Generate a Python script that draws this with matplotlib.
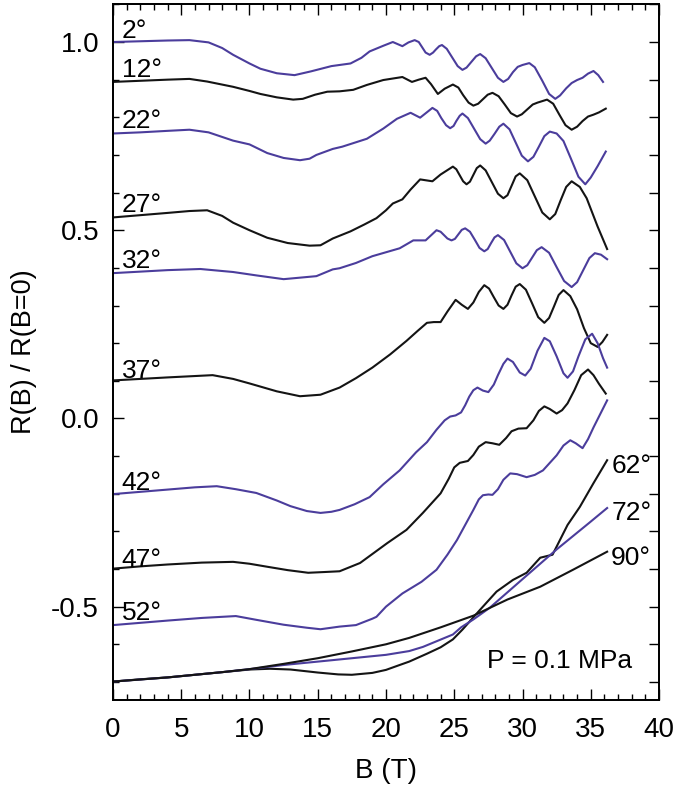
import matplotlib
matplotlib.use("Agg")
import matplotlib.pyplot as plt
from matplotlib.ticker import MultipleLocator, FormatStrFormatter

plt.rcParams['font.family'] = ['Liberation Sans', 'DejaVu Sans']
plt.rcParams['axes.unicode_minus'] = False

BLUE = '#4b3d9c'
BLACK = '#141414'

# magnetoresistance traces, B in tesla
b_2 = [0, 2, 4, 5.6, 7, 8, 8.8, 10, 10.8, 12, 13.3, 14.5, 16, 17.4, 18.2, 18.8, 19.8, 20.5,
       21.2, 21.65, 22.1, 22.4, 22.65, 22.9, 23.2, 23.45, 23.65, 23.9, 24.1, 24.45, 24.85,
       25.25, 25.6, 25.9, 26.25, 26.6, 26.9, 27.3, 27.75, 28.2, 28.6, 28.95, 29.3, 29.65,
       30.0, 30.5, 30.9, 31.45, 31.95, 32.4, 32.75, 33.2, 33.6, 34.0, 34.4, 34.8, 35.2,
       35.55, 35.9]
r_2 = [1.0, 1.002, 1.004, 1.005, 0.999, 0.984, 0.966, 0.943, 0.929, 0.917, 0.912, 0.922,
       0.936, 0.943, 0.958, 0.975, 0.990, 1.0, 0.989, 0.999, 1.005, 1.0, 0.986, 0.972,
       0.966, 0.972, 0.980, 0.989, 0.992, 0.982, 0.959, 0.936, 0.926, 0.932, 0.947, 0.962,
       0.968, 0.957, 0.931, 0.905, 0.894, 0.902, 0.920, 0.934, 0.939, 0.944, 0.933, 0.897,
       0.862, 0.849, 0.858, 0.877, 0.891, 0.899, 0.905, 0.916, 0.923, 0.912, 0.894]

b_12 = [0, 2, 4, 5.6, 6.9, 8.8, 10, 10.8, 12, 13.2, 13.9, 14.8, 15.7, 16.6, 17.6, 18.6,
        19.8, 20.5, 21.2, 21.9, 22.4, 22.9, 23.3, 23.8, 24.3, 24.9, 25.3, 25.65, 26.05,
        26.4, 26.75, 27.1, 27.45, 27.8, 28.25, 28.7, 29.15, 29.6, 29.95, 30.35, 30.75,
        31.1, 31.8, 32.25, 32.7, 33.15, 33.6, 34.0, 34.4, 34.8, 35.2, 35.6, 36.1]
r_12 = [0.894, 0.897, 0.900, 0.902, 0.895, 0.881, 0.870, 0.862, 0.853, 0.847, 0.849,
        0.860, 0.868, 0.869, 0.873, 0.886, 0.899, 0.903, 0.907, 0.894, 0.900, 0.905,
        0.888, 0.862, 0.876, 0.887, 0.879, 0.859, 0.839, 0.831, 0.836, 0.848, 0.860,
        0.865, 0.856, 0.834, 0.811, 0.802, 0.808, 0.821, 0.834, 0.839, 0.847, 0.836,
        0.807, 0.779, 0.767, 0.775, 0.790, 0.802, 0.807, 0.813, 0.823]

b_22 = [0, 2, 4, 5.6, 7, 8.8, 10, 11.3, 12.5, 13.7, 14.4, 14.9, 16.1, 16.8, 18.6, 19.8,
        20.8, 21.8, 22.5, 23.4, 23.75, 24.05, 24.4, 24.7, 24.95, 25.15, 25.4, 25.6, 26.0,
        26.45, 26.9, 27.3, 27.6, 27.95, 28.3, 28.6, 29.05, 29.5, 29.95, 30.4, 30.8, 31.2,
        31.6, 32.0, 32.5, 33.0, 33.55, 34.1, 34.6, 35.0, 35.5, 36.1]
r_22 = [0.757, 0.760, 0.764, 0.767, 0.760, 0.738, 0.728, 0.705, 0.692, 0.686, 0.690,
        0.700, 0.716, 0.722, 0.743, 0.770, 0.796, 0.812, 0.799, 0.825, 0.817, 0.798,
        0.779, 0.771, 0.777, 0.790, 0.804, 0.810, 0.798, 0.770, 0.742, 0.730, 0.738,
        0.756, 0.775, 0.783, 0.768, 0.733, 0.698, 0.683, 0.695, 0.722, 0.750, 0.762,
        0.757, 0.737, 0.690, 0.642, 0.622, 0.640, 0.670, 0.709]

b_27 = [0, 2, 4, 5.6, 6.9, 8, 8.8, 10, 11.3, 12.8, 14.4, 15.2, 16.1, 17.4, 18.4, 19.3,
        20.0, 20.5, 21.2, 21.8, 22.5, 23.4, 24.0, 24.9, 25.15, 25.4, 25.65, 25.9, 26.15,
        26.4, 26.65, 26.9, 27.3, 27.75, 28.2, 28.6, 28.9, 29.2, 29.5, 29.8, 30.35, 30.9,
        31.45, 32.0, 32.4, 32.8, 33.2, 33.6, 34.2, 34.7, 35.5, 36.2]
r_27 = [0.534, 0.540, 0.546, 0.551, 0.553, 0.538, 0.520, 0.500, 0.480, 0.466, 0.459,
        0.460, 0.478, 0.497, 0.515, 0.532, 0.553, 0.571, 0.582, 0.608, 0.635, 0.630,
        0.648, 0.669, 0.662, 0.646, 0.630, 0.622, 0.629, 0.647, 0.665, 0.672, 0.659,
        0.628, 0.597, 0.585, 0.593, 0.618, 0.643, 0.651, 0.633, 0.590, 0.547, 0.529,
        0.543, 0.580, 0.615, 0.630, 0.615, 0.585, 0.510, 0.450]

b_32 = [0, 2, 4, 6.4, 8.8, 10.5, 12.5, 14.9, 16.1, 16.6, 17.8, 19.0, 21.0, 22.0, 22.9,
        23.7, 24.0, 24.25, 24.5, 24.8, 25.05, 25.3, 25.55, 25.8, 26.15, 26.5, 26.85, 27.2,
        27.45, 27.7, 27.95, 28.2, 28.65, 29.1, 29.55, 30.0, 30.35, 30.7, 31.05, 31.4,
        31.95, 32.5, 33.05, 33.6, 34.0, 34.45, 34.9, 35.3, 35.75, 36.2]
r_32 = [0.386, 0.390, 0.394, 0.397, 0.389, 0.380, 0.370, 0.378, 0.396, 0.399, 0.413,
        0.431, 0.452, 0.473, 0.473, 0.500, 0.496, 0.487, 0.478, 0.473, 0.477, 0.489,
        0.501, 0.505, 0.496, 0.475, 0.453, 0.444, 0.450, 0.466, 0.481, 0.487, 0.474,
        0.443, 0.412, 0.399, 0.407, 0.427, 0.447, 0.455, 0.440, 0.402, 0.365, 0.349,
        0.362, 0.394, 0.426, 0.439, 0.435, 0.423]

b_37 = [0, 2, 4, 7.3, 8.8, 10.0, 12.0, 13.7, 15.2, 16.6, 17.8, 19.0, 20.3, 21.5, 22.3,
        23.0, 23.5, 24.0, 24.5, 25.1, 25.55, 26.0, 26.4, 26.8, 27.2, 27.55, 27.9, 28.25,
        28.6, 28.9, 29.2, 29.5, 29.8, 30.25, 30.7, 31.15, 31.6, 31.95, 32.3, 32.65, 33.0,
        33.5, 34.0, 34.5, 35.0, 35.5, 35.85, 36.2]
r_37 = [0.101, 0.105, 0.109, 0.115, 0.105, 0.093, 0.072, 0.059, 0.063, 0.082, 0.107,
        0.135, 0.170, 0.206, 0.232, 0.254, 0.256, 0.256, 0.284, 0.315, 0.302, 0.291,
        0.308, 0.336, 0.354, 0.345, 0.322, 0.300, 0.291, 0.302, 0.327, 0.350, 0.357,
        0.342, 0.306, 0.269, 0.254, 0.267, 0.297, 0.328, 0.341, 0.325, 0.290, 0.240,
        0.200, 0.190, 0.203, 0.222]

b_42 = [0, 2, 4, 6, 7.6, 9, 10.5, 12, 13.0, 14.2, 15.2, 16.0, 16.6, 17.7, 18.8, 19.8,
        21.0, 21.5, 22.2, 23.0, 23.7, 24.3, 24.7, 25.1, 25.5, 25.8, 26.1, 26.4, 26.7,
        27.1, 27.5, 27.9, 28.2, 28.6, 28.9, 29.3, 29.8, 30.2, 30.6, 31.1, 31.6, 32.0,
        32.5, 33.0, 33.3, 33.7, 34.1, 34.6, 35.1, 35.5, 35.9, 36.2]
r_42 = [-0.201, -0.195, -0.189, -0.183, -0.180, -0.188, -0.198, -0.218, -0.233, -0.246,
        -0.251, -0.248, -0.243, -0.228, -0.209, -0.175, -0.138, -0.118, -0.090, -0.063,
        -0.030, -0.005, 0.005, 0.008, 0.016, 0.035, 0.058, 0.075, 0.082, 0.074, 0.070,
        0.090, 0.115, 0.145, 0.159, 0.150, 0.122, 0.114, 0.132, 0.180, 0.214, 0.205,
        0.165, 0.120, 0.108, 0.125, 0.165, 0.210, 0.225, 0.200, 0.160, 0.135]

b_47 = [0, 2, 4, 6.5, 8.8, 10, 11.3, 12.8, 14.3, 15.5, 16.6, 18.1, 20.1, 21.5, 22.7,
        24.0, 24.6, 25.0, 25.4, 26.0, 26.4, 26.8, 27.3, 27.8, 28.3, 28.8, 29.2, 29.7,
        30.3, 30.8, 31.2, 31.6, 32.0, 32.5, 32.9, 33.3, 33.8, 34.3, 34.8, 35.2, 35.6, 36.1]
r_47 = [-0.399, -0.393, -0.388, -0.383, -0.381, -0.386, -0.394, -0.403, -0.410, -0.408,
        -0.406, -0.384, -0.331, -0.296, -0.251, -0.199, -0.160, -0.130, -0.118, -0.113,
        -0.097, -0.075, -0.063, -0.066, -0.070, -0.052, -0.034, -0.027, -0.026, -0.005,
        0.020, 0.032, 0.025, 0.013, 0.022, 0.040, 0.075, 0.115, 0.130, 0.115, 0.092,
        0.066]

b_52 = [0, 2, 4, 6.5, 9.0, 10.5, 12.5, 14.2, 15.2, 16.6, 17.8, 19.0, 19.3, 20.0, 21.2,
        22.6, 23.7, 24.5, 25.2, 25.8, 26.4, 26.8, 27.1, 27.5, 27.8, 28.2, 28.6, 29.1,
        29.6, 30.3, 30.9, 31.5, 32.0, 32.5, 33.0, 33.5, 33.9, 34.4, 34.8, 35.2, 35.7, 36.2]
r_52 = [-0.549, -0.543, -0.537, -0.530, -0.525, -0.535, -0.548, -0.556, -0.560, -0.553,
        -0.549, -0.532, -0.527, -0.500, -0.465, -0.434, -0.402, -0.362, -0.323, -0.283,
        -0.243, -0.215, -0.204, -0.202, -0.203, -0.188, -0.163, -0.146, -0.148, -0.156,
        -0.150, -0.138, -0.118, -0.098, -0.072, -0.058, -0.066, -0.079, -0.055, -0.024,
        0.012, 0.048]

b_62 = [0, 2, 4, 6, 8, 10, 11.5, 13, 15, 16.5, 17.5, 19, 20, 21, 21.7, 23, 24.0, 24.9,
        25.6, 26.9, 28.1, 29.3, 30.3, 31.3, 32.2, 33.3, 34.2, 35.2, 36.2]
r_62 = [-0.699, -0.693, -0.688, -0.681, -0.674, -0.667, -0.665, -0.667, -0.675, -0.680,
        -0.681, -0.676, -0.668, -0.655, -0.646, -0.625, -0.608, -0.587, -0.561, -0.508,
        -0.460, -0.429, -0.410, -0.370, -0.362, -0.283, -0.235, -0.172, -0.111]

b_72 = [0, 4, 8, 10, 12.5, 15, 17.5, 20, 21.7, 22.7, 24.9, 25.5, 26.4, 27.6, 30.0, 32.5,
        34.9, 36.2]
r_72 = [-0.699, -0.688, -0.674, -0.666, -0.655, -0.646, -0.637, -0.628, -0.618, -0.607,
        -0.574, -0.555, -0.534, -0.503, -0.427, -0.348, -0.277, -0.238]

b_90 = [0, 4, 8, 10, 12.5, 15, 17.5, 20, 21.7, 24.0, 26.4, 28.9, 31.3, 33.7, 36.2]
r_90 = [-0.699, -0.688, -0.674, -0.666, -0.652, -0.637, -0.619, -0.600, -0.583, -0.555,
        -0.524, -0.481, -0.447, -0.402, -0.354]

traces = [
    (b_2, r_2, BLUE), (b_12, r_12, BLACK), (b_22, r_22, BLUE), (b_27, r_27, BLACK),
    (b_32, r_32, BLUE), (b_37, r_37, BLACK), (b_42, r_42, BLUE), (b_47, r_47, BLACK),
    (b_52, r_52, BLUE), (b_62, r_62, BLACK), (b_72, r_72, BLUE), (b_90, r_90, BLACK),
]

# angle labels at text baseline
left_labels = [('2°', 1.010), ('12°', 0.906), ('22°', 0.771), ('27°', 0.548),
               ('32°', 0.399), ('37°', 0.107), ('42°', -0.190), ('47°', -0.395),
               ('52°', -0.536)]
right_labels = [('62°', -0.145), ('72°', -0.270), ('90°', -0.389)]

FS = 19

fig = plt.figure(figsize=(6.75, 7.99), dpi=100)
ax = fig.add_axes([0.1674, 0.1239, 0.8089, 0.8711])

for b, r, c in traces:
    ax.plot(b, r, color=c, lw=1.5, solid_joinstyle='round')

for txt, y in left_labels:
    ax.text(0.64, y, txt, fontsize=FS, va='baseline', ha='left')
for txt, y in right_labels:
    ax.text(36.5, y, txt, fontsize=FS, va='baseline', ha='left')
ax.text(27.4, -0.663, 'P = 0.1 MPa', fontsize=FS, va='baseline', ha='left')

ax.set_xlim(0, 40)
ax.set_ylim(-0.748, 1.101)
ax.xaxis.set_major_locator(MultipleLocator(5))
ax.xaxis.set_minor_locator(MultipleLocator(1))
ax.yaxis.set_major_locator(MultipleLocator(0.5))
ax.yaxis.set_minor_locator(MultipleLocator(0.1))
ax.yaxis.set_major_formatter(FormatStrFormatter('%.1f'))

ax.tick_params(which='both', direction='in', top=True, right=False, width=1.0,
               labelsize=20)
ax.tick_params(which='major', length=8)
ax.tick_params(which='minor', length=4)
ax.tick_params(axis='x', pad=12)
ax.tick_params(axis='y', pad=10)

# right side: every 0.1 tick drawn at full length
axr = ax.twinx()
axr.set_ylim(ax.get_ylim())
axr.yaxis.set_major_locator(MultipleLocator(0.1))
axr.tick_params(axis='y', direction='in', length=7.5, width=1.0, labelright=False)

for a in (ax, axr):
    for s in a.spines.values():
        s.set_linewidth(1.3)

ax.set_xlabel('B (T)', fontsize=20)
ax.set_ylabel('R(B) / R(B=0)', fontsize=19.5)
ax.xaxis.set_label_coords(0.5, -0.083)
ax.yaxis.set_label_coords(-0.14, 0.5)

fig.savefig('out.png', dpi=100)
